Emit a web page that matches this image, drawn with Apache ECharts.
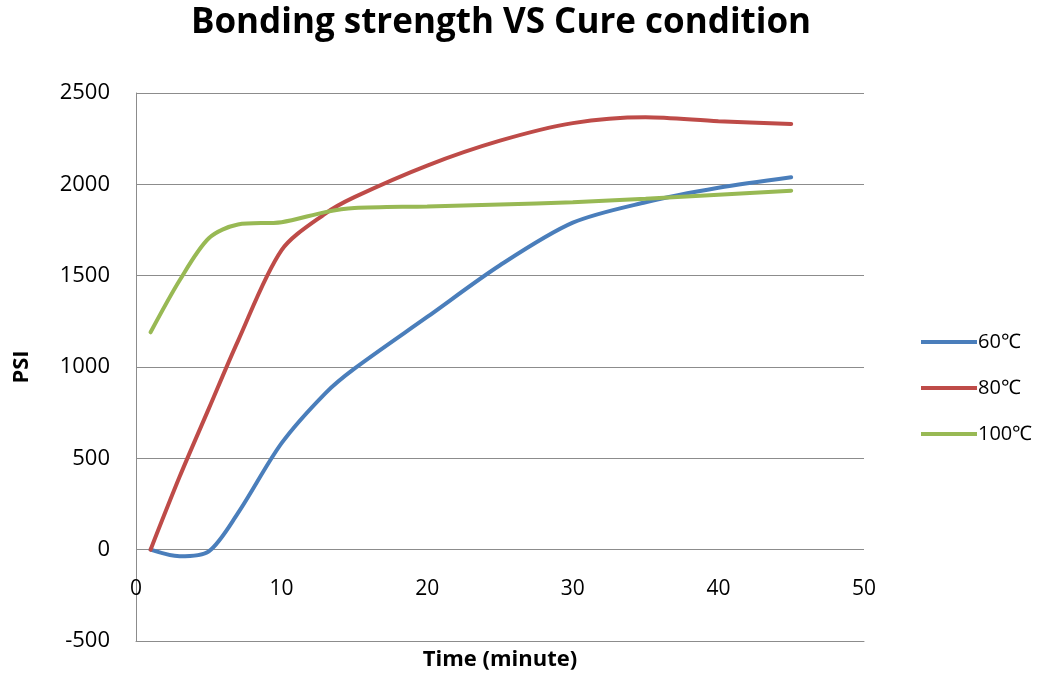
<!DOCTYPE html>
<html>
<head>
<meta charset="utf-8">
<script src="https://cdn.jsdelivr.net/npm/echarts@6/dist/echarts.min.js"></script>
<style>html,body{margin:0;padding:0;background:#fff;}#c{width:1045px;height:678px;}</style>
</head>
<body>
<div id="c"></div>
<script>
var title = 'Bonding strength VS Cure condition';
var times = [1, 3, 5, 7, 10, 13, 15, 20, 25, 30, 35, 40, 45];
var seriesNames = ['60\u2103', '80\u2103', '100\u2103'];
var psi60 = [0, -36, -9, 200, 583, 856, 991, 1274, 1557, 1790, 1902, 1981, 2039];
var psi80 = [0, 400, 772, 1142, 1640, 1840, 1930, 2103, 2239, 2335, 2367, 2345, 2330];
var psi100 = [1190, 1475, 1705, 1780, 1793, 1848, 1870, 1879, 1890, 1902, 1921, 1943, 1965];
var colors = ['#4a7ebb', '#be4b48', '#98b954'];

function pairs(ys) { return times.map(function (t, i) { return [t, ys[i]]; }); }
var allData = [psi60, psi80, psi100];

var chart = echarts.init(document.getElementById('c'));
chart.setOption({
  backgroundColor: '#fff',
  animation: false,
  title: {
    text: title, left: 496, textAlign: 'center', top: 1,
    textStyle: { fontFamily: 'Open Sans', fontWeight: 'bold', fontSize: 35, color: '#000' }
  },
  legend: {
    orient: 'vertical', left: 916, top: 327, itemGap: 26,
    itemWidth: 56, itemHeight: 4, icon: 'rect',
    textStyle: { fontFamily: 'Open Sans', fontSize: 20, color: '#000', padding: [0, 0, 0, -4] },
    data: seriesNames
  },
  grid: { left: 136, right: 181, top: 93, bottom: 37, outerBoundsMode: 'none', containLabel: false },
  xAxis: {
    type: 'value', min: 0, max: 50, interval: 10,
    name: 'Time (minute)', nameLocation: 'middle', nameGap: 8,
    nameTextStyle: { fontFamily: 'Open Sans', fontWeight: 'bold', fontSize: 22, color: '#000' },
    axisLine: { onZero: false, lineStyle: { color: '#8c8c8c', width: 1 } },
    axisTick: { show: false },
    axisLabel: { margin: -62, fontFamily: 'Open Sans', fontSize: 21, color: '#000', formatter: function (v) { return String(v); } },
    splitLine: { show: false }
  },
  yAxis: {
    type: 'value', min: -500, max: 2500, interval: 500,
    name: 'PSI', nameLocation: 'middle', nameGap: 103,
    nameTextStyle: { fontFamily: 'Open Sans', fontWeight: 'bold', fontSize: 22, color: '#000' },
    axisLine: { show: true, lineStyle: { color: '#8c8c8c', width: 1 } },
    axisTick: { show: false },
    axisLabel: { margin: 26, fontFamily: 'Open Sans', fontSize: 22, color: '#000', formatter: function (v) { return String(v); } },
    splitLine: { show: true, lineStyle: { color: '#8c8c8c', width: 1 } }
  },
  series: seriesNames.map(function (n, i) {
    return {
      name: n, type: 'line', data: pairs(allData[i]), smooth: 0.3,
      showSymbol: false, symbol: 'none',
      lineStyle: { color: colors[i], width: 4, cap: 'round' },
      itemStyle: { color: colors[i] }
    };
  })
});
</script>
</body>
</html>
